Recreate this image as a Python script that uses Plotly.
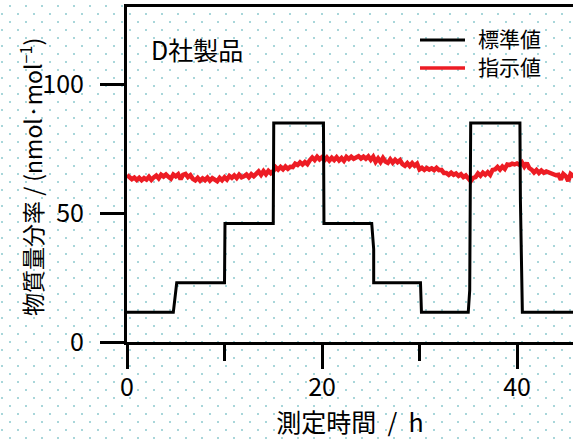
import base64
import plotly.graph_objects as go

# ---------------- data ----------------
# 標準値 (standard value) – step profile, time in h, value in nmol/mol
std_time = [0, 4.75, 5.1, 10.0, 10.05, 15.0, 15.05, 20.15, 20.2, 25.1, 25.3, 25.3,
            30.1, 30.2, 35.0, 35.15, 35.25, 40.3, 40.35, 40.55, 46.0]
std_value = [11.5, 11.5, 23.0, 23.0, 46.0, 46.0, 85.0, 85.0, 46.0, 46.0, 36.0, 23.0,
             23.0, 11.5, 11.5, 20.0, 85.0, 85.0, 55.0, 11.5, 11.5]

# 指示値 (indicated value) – sampled every 0.25 h from 0 h
ind_step_h = 0.25
ind_value = [
    64.8, 64.0, 63.2, 63.8, 62.9, 63.7, 62.8, 63.6, 63.0, 64.1, 62.9, 63.9, 64.6, 63.5, 64.9, 64.2, 65.0, 64.1, 63.4, 65.0,
    64.3, 65.1, 63.2, 64.9, 65.2, 64.0, 64.7, 63.3, 62.7, 63.7, 62.6, 63.5, 62.8, 63.8, 62.6, 63.6, 62.9, 62.4, 63.7, 62.8,
    63.9, 63.0, 64.4, 63.7, 64.6, 63.6, 64.9, 63.9, 64.3, 65.0, 63.9, 65.1, 64.3, 65.3, 66.2, 64.9, 66.3, 65.1, 66.4, 65.5,
    66.3, 67.8, 66.9, 67.9, 67.0, 68.1, 67.2, 68.0, 67.9, 69.2, 68.7, 69.7, 68.9, 69.8, 69.0, 70.5, 71.6, 70.6, 71.9, 70.9,
    71.7, 70.5, 71.6, 70.4, 71.5, 70.6, 71.7, 70.5, 71.4, 70.3, 71.8, 71.0, 71.9, 71.1, 71.7, 72.1, 71.2, 71.9, 71.1, 72.0,
    70.7, 71.9, 69.9, 71.2, 69.8, 71.4, 70.0, 69.5, 70.9, 69.6, 70.7, 69.8, 70.6, 69.0, 68.4, 69.4, 68.3, 69.4, 68.4, 69.2,
    67.0, 67.6, 66.8, 67.5, 66.9, 67.4, 66.7, 67.6, 66.7, 66.8, 65.6, 65.6, 64.9, 65.7, 64.9, 65.4, 64.5, 65.1, 64.0, 64.6,
    63.5, 62.4, 63.7, 64.0, 65.4, 64.5, 65.7, 64.9, 65.9, 64.9, 66.8, 67.0, 67.9, 66.9, 68.1, 67.2, 68.9, 68.7, 69.2, 68.9,
    69.3, 68.8, 69.7, 68.1, 69.5, 67.5, 66.9, 65.8, 66.7, 65.6, 66.5, 65.7, 66.2, 65.8, 65.2, 65.1, 64.7, 64.9, 63.0, 65.2,
    64.4, 62.5, 65.2, 64.5, 64.9,
]
ind_time = [i * ind_step_h for i in range(len(ind_value))]

x_ticks = [0, 20, 40]
y_ticks = [0, 50, 100]

series_names = ["標準値", "指示値"]
series_colors = ["black", "#ed1c24"]
title_text = "D社製品"
x_title = "測定時間\u00a0\u00a0/\u00a0\u00a0h"
y_title = "物質量分率 / (nmol·mol<sup>−1</sup>)"

# ---------------- layout geometry ----------------
W, H = 573, 439
ML, MR, MT, MB = 127, 0, 7, 97
PW, PH = W - ML - MR, H - MT - MB
FONT = "Noto Sans CJK JP, Noto Sans, sans-serif"


def px_x(p):
    return (p - ML) / PW


def px_y(p):
    return (H - MB - p) / PH


# dotted background pattern as an SVG image
dot = "#a8d6da"
svg = (
    f"<svg xmlns='http://www.w3.org/2000/svg' width='{W}' height='{H}'>"
    "<defs><pattern id='p' width='16' height='16' patternUnits='userSpaceOnUse'>"
    f"<rect x='9' y='5' width='2' height='2' fill='{dot}'/>"
    f"<rect x='1' y='13' width='2' height='2' fill='{dot}'/>"
    "</pattern></defs>"
    f"<rect width='{W}' height='{H}' fill='url(#p)'/></svg>"
)
svg_uri = "data:image/svg+xml;base64," + base64.b64encode(svg.encode()).decode()

fig = go.Figure()
fig.add_trace(go.Scatter(
    x=ind_time, y=ind_value, mode="lines", name=series_names[1],
    line=dict(color=series_colors[1], width=4.5), showlegend=False,
))
fig.add_trace(go.Scatter(
    x=std_time, y=std_value, mode="lines", name=series_names[0],
    line=dict(color=series_colors[0], width=3), showlegend=False,
))

# title inside plot
fig.add_annotation(
    text=title_text, xref="paper", yref="paper",
    x=px_x(149), y=px_y(49), xanchor="left", yanchor="middle",
    showarrow=False, font=dict(size=25, color="black", family=FONT),
)

# y-axis title placed explicitly
fig.add_annotation(
    text=y_title, xref="paper", yref="paper",
    x=px_x(31), y=px_y(177), xanchor="center", yanchor="middle", textangle=-90,
    showarrow=False, font=dict(size=23, color="black", family=FONT),
)

# manual legend (sample lines + labels)
legend_rows = [40, 68]
shapes = []
for name, col, row, lw in zip(series_names, series_colors, legend_rows, [3, 3.5]):
    shapes.append(dict(
        type="line", xref="paper", yref="paper",
        x0=px_x(420), x1=px_x(465), y0=px_y(row), y1=px_y(row),
        line=dict(color=col, width=lw),
    ))
    fig.add_annotation(
        text=name, xref="paper", yref="paper",
        x=px_x(476), y=px_y(row - 2), xanchor="left", yanchor="middle",
        showarrow=False, font=dict(size=21, color="black", family=FONT),
    )

fig.update_layout(
    width=W, height=H,
    margin=dict(l=ML, r=MR, t=MT, b=MB, pad=0),
    paper_bgcolor="white", plot_bgcolor="rgba(0,0,0,0)",
    font=dict(family=FONT, color="black", size=25),
    showlegend=False,
    shapes=shapes,
    images=[dict(
        source=svg_uri, xref="paper", yref="paper",
        x=-ML / PW, y=1 + MT / PH, sizex=W / PW, sizey=H / PH,
        xanchor="left", yanchor="top", sizing="stretch", layer="below",
    )],
)

fig.update_xaxes(
    range=[0, PW / 9.75], tickvals=x_ticks, ticks="outside", ticklen=24, tickwidth=3,
    tickcolor="black", showline=True, linewidth=3, linecolor="black", mirror=True,
    showgrid=False, zeroline=False, ticklabelstandoff=-3,
    minor=dict(dtick=10, tick0=0, ticks="outside", ticklen=16, tickwidth=3, tickcolor="black", showgrid=False),
    title=dict(text=x_title, font=dict(size=25, family=FONT), standoff=11),
    tickfont=dict(size=25, family=FONT),
)
fig.update_yaxes(
    range=[0, 130], tickvals=y_ticks, ticks="outside", ticklen=24, tickwidth=3,
    tickcolor="black", showline=True, linewidth=3, linecolor="black",
    showgrid=False, zeroline=False, ticklabelstandoff=11,
    tickfont=dict(size=25, family=FONT),
)

fig.write_html(
    "out.html",
    config={"displayModeBar": False, "staticPlot": True},
    post_script="document.body.style.margin='0px';document.body.style.overflow='hidden';",
)
